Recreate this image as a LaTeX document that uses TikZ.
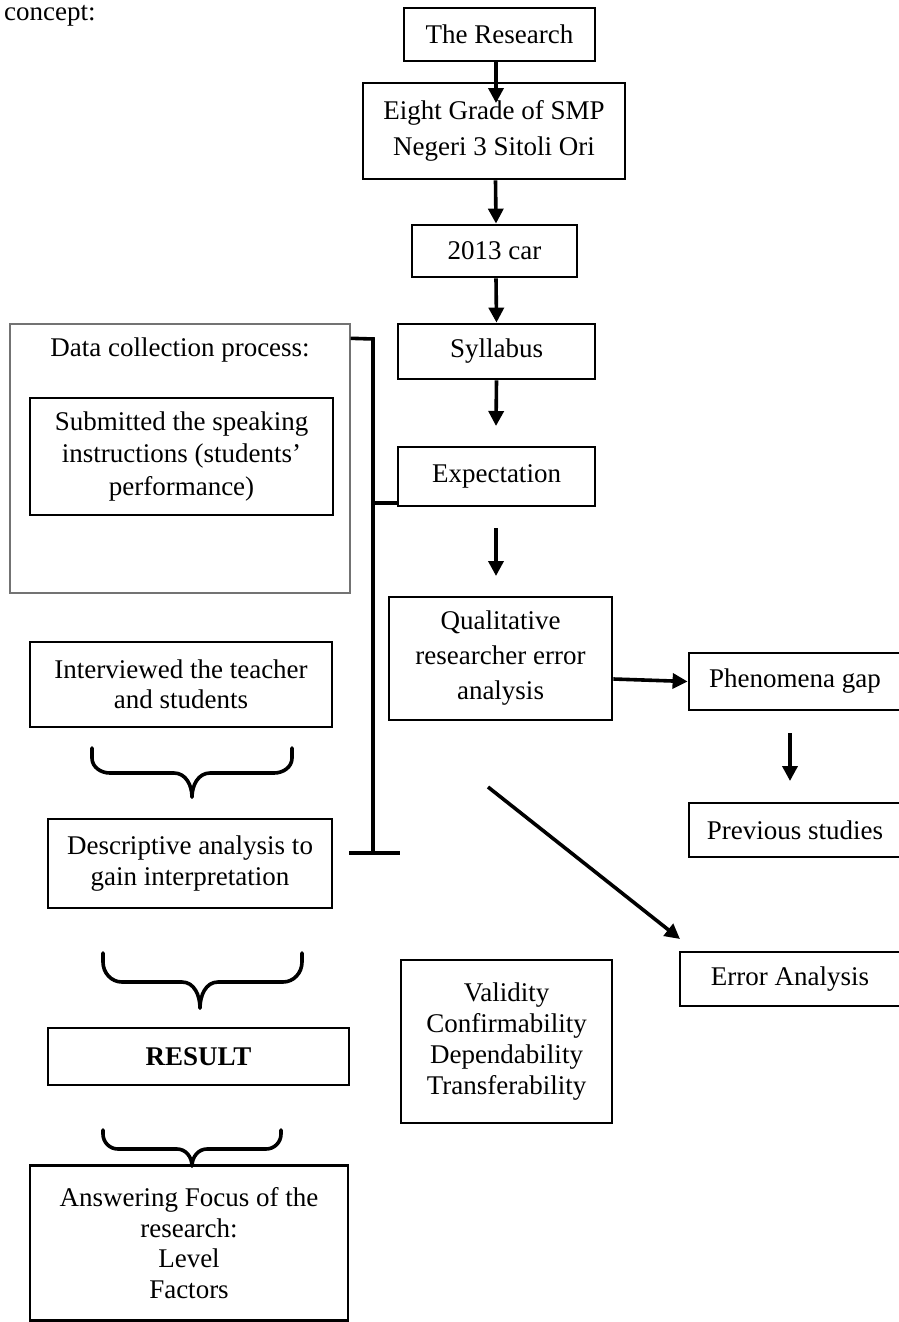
\documentclass[tikz,border=0pt]{standalone}
\usepackage{fontspec}
\setmainfont{Liberation Serif}
\usetikzlibrary{arrows.meta}
\begin{document}
\begin{tikzpicture}[x=1pt,y=-1pt,
  txt/.style={font=\fontsize{27pt}{31pt}\selectfont, align=center, inner sep=0pt},
  box/.style={txt, draw, line width=2.8pt, minimum width=#1},
  arr/.style={line width=3.6pt, -{Triangle[length=15pt,width=15pt]}},
  brk/.style={line width=3.6pt},
  brace/.style={line width=3.6pt, line cap=round}]
\useasboundingbox (0,0) rectangle (898,1322);

\node[txt, anchor=base west] (concept) at (4,21) {concept:};

% main spine
\node[box=191pt, minimum height=53pt] (research) at (499.5,34.5) {The Research};
\node[box=262pt, minimum height=96pt, font=\fontsize{27pt}{36pt}\selectfont] (eight) at (494,131) {Eight Grade of SMP\\Negeri 3 Sitoli Ori};
\node[box=165pt, minimum height=52pt] (car) at (494.5,251) {2013 car};
\node[box=197pt, minimum height=55pt] (syllabus) at (496.5,351.5) {Syllabus};
\node[box=197pt, minimum height=59pt] (expect) at (496.5,476.5) {Expectation};
\node[box=223pt, minimum height=123pt, font=\fontsize{27pt}{35pt}\selectfont] (qual) at (500.5,658.5) {Qualitative\\researcher error\\analysis};
\node[box=212pt, minimum height=57pt] (phen) at (795,681.5) {Phenomena gap};
\node[box=212pt, minimum height=54pt] (prev) at (795,830) {Previous studies};
\node[box=220pt, minimum height=54pt] (erran) at (790,979) {Error Analysis};
\node[box=211pt, minimum height=163pt] (valid) at (506.5,1041.5) {Validity\\Confirmability\\Dependability\\Transferability};

% left column
\node[draw=black!55, line width=1.4pt, minimum width=340pt, minimum height=269pt, inner sep=0pt] (data) at (180,458.5) {};
\node[txt] (datalabel) at (180,350) {Data collection process:};
\node[box=303pt, minimum height=117pt, font=\fontsize{27pt}{32.5pt}\selectfont] (submit) at (181.5,456.5) {Submitted the speaking\\instructions (students'\\performance)};
\node[box=302pt, minimum height=85pt, font=\fontsize{27pt}{30pt}\selectfont] (interv) at (181,684.5) {Interviewed the teacher\\and students};
\node[box=284pt, minimum height=89pt] (descr) at (190,863.5) {Descriptive analysis to\\gain interpretation};
\node[box=301pt, minimum height=57pt] (result) at (198.5,1056.5) {\textbf{RESULT}};
\node[box=318pt, minimum height=155pt, font=\fontsize{27pt}{30.5pt}\selectfont] (answer) at (189,1243) {Answering Focus of the\\research:\\Level\\Factors};

% arrows along the spine
\coordinate (a1) at (496,103);
\draw[arr] ([xshift=-3.5pt]research.south) -- (a1);
\draw[arr] ([xshift=1.5pt]eight.south) -- ([xshift=1.5pt]car.north);
\draw[arr] ([xshift=1.5pt]car.south) -- (syllabus.north);
\coordinate (a2) at (496,426);
\draw[arr] (syllabus.south) -- (a2);
\coordinate (a3s) at (496,528);
\coordinate (a3e) at (496,576);
\draw[arr] (a3s) -- (a3e);
\draw[arr] ([yshift=-20.5pt]qual.east) -- (phen.west);
\coordinate (a4s) at (790,733);
\coordinate (a4e) at (790,781);
\draw[arr] (a4s) -- (a4e);
\coordinate (a5s) at (488,787);
\coordinate (a5e) at (680,939);
\draw[arr] (a5s) -- (a5e);

% bracket joining data collection and expectation
\coordinate (bt) at (373,339);
\coordinate (bb) at (373,853);
\coordinate (bm) at (373,503);
\coordinate (tl) at (349,853);
\coordinate (tr) at (400,853);
\draw[brk] ([yshift=-15pt]data.north east) -- (bt) -- (bb);
\draw[brk] (bm) -- (expect.west |- bm);
\draw[brk] (tl) -- (tr);

% braces
\draw[brace] (92,748) -- (92,758) to[out=-90,in=180] (110,773) -- (174,773) to[out=0,in=90] (192,797);
\draw[brace] (192,797) to[out=90,in=180] (210,773) -- (274,773) to[out=0,in=-90] (292,758) -- (292,748);

\draw[brace] (103,953) -- (103,962) to[out=-90,in=180] (122,982) -- (182,982) to[out=0,in=90] (200,1008);
\draw[brace] (200,1008) to[out=90,in=180] (218,982) -- (283,982) to[out=0,in=-90] (302,962) -- (302,953);

\draw[brace] (103,1130) -- (103,1134) to[out=-90,in=180] (118,1149) -- (177,1149) to[out=0,in=90] (192,1166);
\draw[brace] (192,1166) to[out=90,in=180] (207,1149) -- (266,1149) to[out=0,in=-90] (281,1134) -- (281,1130);
\end{tikzpicture}
\end{document}
